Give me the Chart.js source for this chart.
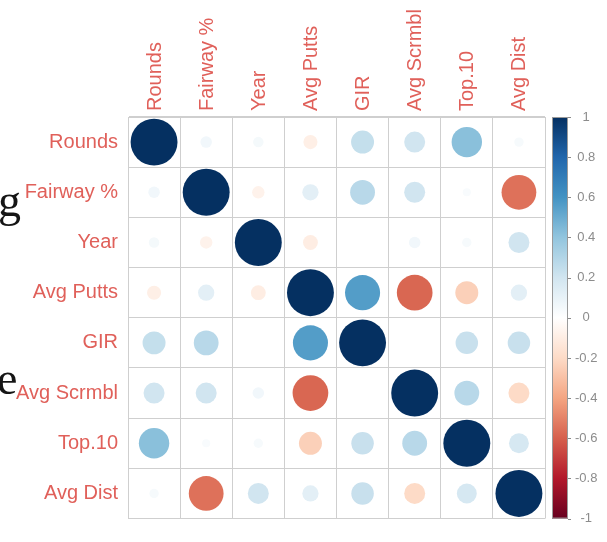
<!DOCTYPE html>
<html>
<head>
<meta charset="utf-8">
<title>Correlation matrix</title>
<script src="https://cdn.jsdelivr.net/npm/chart.js@4/dist/chart.umd.min.js"></script>
<style>
  html, body { margin: 0; padding: 0; background: #ffffff; }
  #wrap { position: relative; width: 607px; height: 542px; overflow: hidden; background: #ffffff; }
  #wrap canvas { position: absolute; left: 0; top: 0; }
  .stray { position: absolute; font-family: "Liberation Serif", "DejaVu Serif", serif; font-size: 46px; line-height: 46px; color: #151515; }
</style>
</head>
<body>
<div id="wrap">
  <canvas id="corr" width="607" height="542"></canvas>
  <span class="stray" style="left:-2px; top:178px;">g</span>
  <span class="stray" style="left:-3px; top:356px;">e</span>
</div>
<script>
// Variables, in matrix order (top to bottom / left to right)
const variables = ['Rounds', 'Fairway %', 'Year', 'Avg Putts', 'GIR', 'Avg Scrmbl', 'Top.10', 'Avg Dist'];

// One row of Pearson correlations per variable
const roundsCorr    = [ 1.00,  0.06,  0.05, -0.09,  0.24,  0.20,  0.42,  0.04];
const fairwayCorr   = [ 0.06,  1.00, -0.07,  0.12,  0.28,  0.20,  0.03, -0.55];
const yearCorr      = [ 0.05, -0.07,  1.00, -0.10,  0.00,  0.06,  0.04,  0.20];
const puttsCorr     = [-0.09,  0.12, -0.10,  1.00,  0.56, -0.58, -0.24,  0.12];
const girCorr       = [ 0.24,  0.28,  0.00,  0.56,  1.00,  0.00,  0.23,  0.23];
const scrambleCorr  = [ 0.20,  0.20,  0.06, -0.58,  0.00,  1.00,  0.28, -0.20];
const top10Corr     = [ 0.42,  0.03,  0.04, -0.24,  0.23,  0.28,  1.00,  0.18];
const distCorr      = [ 0.04, -0.55,  0.20,  0.12,  0.23, -0.20,  0.18,  1.00];

// Colour legend range and tick step
const legendMin = -1;
const legendMax = 1;
const legendStep = 0.2;

// Diverging red-blue palette, from -1 to 1
const rdbu = ['#67001F', '#B2182B', '#D6604D', '#F4A582', '#FDDBC7', '#FFFFFF',
              '#D1E5F0', '#92C5DE', '#4393C3', '#2166AC', '#053061'];

const corrRows = [roundsCorr, fairwayCorr, yearCorr, puttsCorr, girCorr, scrambleCorr, top10Corr, distCorr];

// Canvas layout: axis band sizes around the plot
const canvasW = 607;
const leftBand = 128;
const topBand = 117;
const rightBand = 62;
const bottomPad = 6;
const cellSize = (canvasW - leftBand - rightBand) / variables.length;

function hexToRgb(h) {
  const n = parseInt(h.slice(1), 16);
  return [(n >> 16) & 255, (n >> 8) & 255, n & 255];
}

function corrColor(v) {
  const t = Math.min(1, Math.max(0, (v - legendMin) / (legendMax - legendMin))) * (rdbu.length - 1);
  const i = Math.min(rdbu.length - 2, Math.floor(t));
  const f = t - i;
  const a = hexToRgb(rdbu[i]);
  const b = hexToRgb(rdbu[i + 1]);
  const c = a.map((x, k) => Math.round(x + (b[k] - x) * f));
  return `rgb(${c[0]},${c[1]},${c[2]})`;
}

// Circle area follows |r|, so the radius follows sqrt(|r|)
function corrRadius(v) {
  return cellSize * 0.45 * Math.sqrt(Math.abs(v));
}

const cells = [];
corrRows.forEach((row, i) => {
  row.forEach((v, j) => cells.push({ x: variables[j], y: variables[i], v: v }));
});

const labelColor = '#e0605a';
const gridColor = '#cfcfcf';
const labelFont = { family: 'Liberation Sans', size: 20 };

// Colour bar drawn next to the legend axis
const colorBarPlugin = {
  id: 'colorBar',
  afterDraw(chart) {
    const scale = chart.scales.cb;
    const ctx = chart.ctx;
    const x0 = scale.left + 7;
    const w = 16;
    const top = scale.getPixelForValue(legendMax);
    const bottom = scale.getPixelForValue(legendMin);
    const grad = ctx.createLinearGradient(0, bottom, 0, top);
    rdbu.forEach((c, k) => grad.addColorStop(k / (rdbu.length - 1), c));
    ctx.save();
    ctx.fillStyle = grad;
    ctx.fillRect(x0, top, w, bottom - top);
    ctx.strokeStyle = '#9a9a9a';
    ctx.lineWidth = 1;
    ctx.strokeRect(x0 + 0.5, top + 0.5, w - 1, bottom - top - 1);
    ctx.strokeStyle = '#8a8a8a';
    scale.ticks.forEach(t => {
      const y = Math.round(scale.getPixelForValue(t.value)) + 0.5;
      ctx.beginPath();
      ctx.moveTo(x0 + w, y);
      ctx.lineTo(x0 + w + 3, y);
      ctx.stroke();
    });
    ctx.restore();
  }
};

new Chart(document.getElementById('corr'), {
  type: 'bubble',
  data: {
    datasets: [{
      data: cells,
      backgroundColor: ctx => (ctx.raw ? corrColor(ctx.raw.v) : '#ffffff'),
      borderWidth: 0,
      hoverRadius: 0,
      radius: ctx => (ctx.raw ? corrRadius(ctx.raw.v) : 0)
    }]
  },
  options: {
    responsive: false,
    animation: false,
    events: [],
    layout: { padding: { top: 0, left: 0, right: 0, bottom: bottomPad } },
    plugins: { legend: { display: false }, tooltip: { enabled: false } },
    scales: {
      x: {
        type: 'category',
        labels: variables,
        position: 'top',
        offset: true,
        grid: { offset: true, color: gridColor, lineWidth: 1, drawTicks: false },
        border: { color: gridColor },
        ticks: {
          autoSkip: false, minRotation: 90, maxRotation: 90, padding: 6, labelOffset: 25,
          color: labelColor, font: labelFont
        },
        afterFit: s => { s.height = topBand; }
      },
      y: {
        type: 'category',
        labels: variables,
        position: 'left',
        offset: true,
        grid: { offset: true, color: gridColor, lineWidth: 1, drawTicks: false },
        border: { color: gridColor },
        ticks: {
          autoSkip: false, padding: 10,
          color: labelColor, font: labelFont
        },
        afterFit: s => { s.width = leftBand; }
      },
      cb: {
        type: 'linear',
        position: 'right',
        min: legendMin,
        max: legendMax,
        grid: { display: false, drawTicks: true, tickLength: 27 },
        border: { display: false },
        ticks: {
          stepSize: legendStep, padding: 3, crossAlign: 'center',
          color: '#8c8c8c', font: { family: 'Liberation Sans', size: 13 },
          callback: v => String(Math.round(v * 10) / 10)
        },
        afterFit: s => { s.width = rightBand; }
      }
    }
  },
  plugins: [colorBarPlugin]
});
</script>
</body>
</html>
